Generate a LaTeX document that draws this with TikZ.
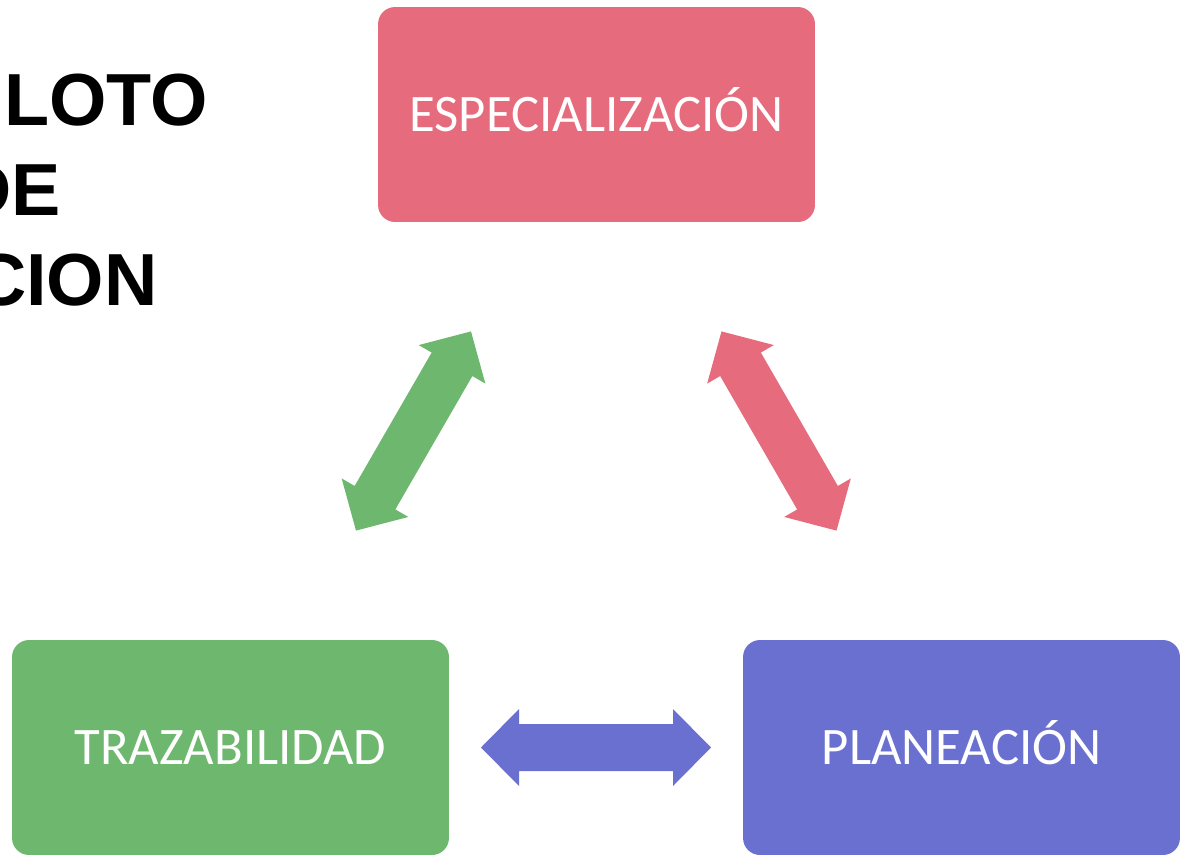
\documentclass[tikz,border=0pt]{standalone}
\usepackage{fontspec}
\setmainfont{Carlito}
\newfontfamily\titlefont{Liberation Sans}
\usetikzlibrary{calc, positioning}
\definecolor{boxRed}{RGB}{230,108,125}
\definecolor{boxGreen}{RGB}{109,183,110}
\definecolor{boxBlue}{RGB}{106,112,208}
\tikzset{
  % one unit is one pixel of the reference
  stage/.style    = {rectangle, rounded corners=0.34cm, minimum width=8.74cm,
                     minimum height=4.3cm, inner sep=0pt, text=white,
                     text height=19pt, text depth=0pt,
                     font=\fontsize{30}{36}\selectfont},
  titleline/.style = {anchor=base east, inner sep=0pt,
                     font=\titlefont\bfseries\fontsize{42}{51}\selectfont},
  dblarrow/.pic   = {\path[pic actions] (-115,0) -- (-77,38.5) -- (-77,23.5)
                       -- (77,23.5) -- (77,38.5) -- (115,0) -- (77,-38.5)
                       -- (77,-23.5) -- (-77,-23.5) -- (-77,-38.5) -- cycle;},
}

\begin{document}
\begin{tikzpicture}[x=0.02cm, y=-0.02cm]
  \clip (0,0) rectangle (1180,856);
  % title, cut off at the left edge
  \node[titleline] (ttlA) at (208,125) {LOTO};
  \node[titleline] (ttlB) at (61,215) {DE};
  \node[titleline] (ttlC) at (158,305) {CION};
  % the three stages
  \node[stage, fill=boxRed]   (spec) at (596.5,114.5) {ESPECIALIZACIÓN};
  \node[stage, fill=boxGreen] (traz) at (230.5,747.5) {TRAZABILIDAD};
  \node[stage, fill=boxBlue]  (plan) at (961.5,747.5) {PLANEACIÓN};
  % double arrows between them
  \pic[fill=boxGreen, rotate=60]  at ($(spec)!0.5!(traz)$) {dblarrow};
  \pic[fill=boxRed,   rotate=120] at ($(spec)!0.5!(plan)$) {dblarrow};
  \pic[fill=boxBlue]              at ($(traz)!0.5!(plan)$) {dblarrow};
\end{tikzpicture}
\end{document}
